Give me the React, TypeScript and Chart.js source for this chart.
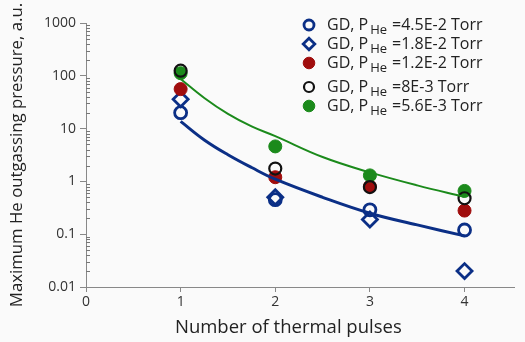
import React, { useEffect, useRef } from "react";
import { Chart, registerables } from "chart.js";

Chart.register(...registerables);

// ---- data ----
const pulses = [1, 2, 3, 4];
const seriesLabels = ["=4.5E-2 Torr", "=1.8E-2 Torr", "=1.2E-2 Torr", "=8E-3 Torr", "=5.6E-3 Torr"];
const p45e2 = [20, 0.45, 0.29, 0.12];
const p18e2 = [36, 0.5, 0.19, 0.02];
const p12e2 = [56, 1.2, 0.8, 0.28];
const p8e3 = [125, 1.75, 0.78, 0.48];
const p56e3 = [112, 4.6, 1.3, 0.66];
const fitX = [1, 1.25, 1.5, 1.75, 2, 2.5, 3, 3.5, 4];
const blueFit = [13.7, 6.1, 3.2, 1.83, 1.1, 0.5, 0.25, 0.15, 0.093];
const greenFit = [87, 38, 19, 11, 7.2, 2.9, 1.48, 0.84, 0.51];
const xTicks = [0, 1, 2, 3, 4];
const yTicks = [0.01, 0.1, 1, 10, 100, 1000];

const BLUE = "#0b2f86";
const RED = "#a00d0d";
const GREEN = "#1b8a1b";
const BLACK = "#111111";
const FONT = "'Open Sans', 'DejaVu Sans', sans-serif";

const toXY = (xs: number[], ys: number[]) => xs.map((x, i) => ({ x, y: ys[i] }));

type Marker = { style: string; fill: string; stroke: string; r: number; bw: number };
const markers: Marker[] = [
  { style: "circle", fill: "rgba(0,0,0,0)", stroke: BLUE, r: 6, bw: 2.8 },
  { style: "rectRot", fill: "rgba(0,0,0,0)", stroke: BLUE, r: 7.5, bw: 2.8 },
  { style: "circle", fill: RED, stroke: RED, r: 6.5, bw: 1 },
  { style: "circle", fill: "rgba(0,0,0,0)", stroke: BLACK, r: 6, bw: 2.2 },
  { style: "circle", fill: GREEN, stroke: GREEN, r: 6.5, bw: 1 },
];

const bgPlugin = {
  id: "bg",
  beforeDraw(chart: any) {
    const ctx = chart.ctx;
    ctx.save();
    ctx.fillStyle = "#fafafa";
    ctx.fillRect(0, 0, chart.width, chart.height);
    ctx.restore();
  },
};

const minorTicksPlugin = {
  id: "minorTicks",
  afterDraw(chart: any) {
    const ys = chart.scales.y;
    const ctx = chart.ctx;
    const x0 = ys.right;
    ctx.save();
    ctx.strokeStyle = "#777";
    ctx.lineWidth = 1;
    for (let k = -2; k < 3; k++) {
      for (let m = 2; m <= 9; m++) {
        const v = m * Math.pow(10, k);
        const py = Math.round(ys.getPixelForValue(v)) + 0.5;
        ctx.beginPath();
        ctx.moveTo(x0, py);
        ctx.lineTo(x0 + 4, py);
        ctx.stroke();
      }
    }
    ctx.restore();
  },
};

function drawMarker(ctx: CanvasRenderingContext2D, m: Marker, x: number, y: number) {
  ctx.beginPath();
  if (m.style === "rectRot") {
    const r = 5.8;
    ctx.moveTo(x, y - r);
    ctx.lineTo(x + r, y);
    ctx.lineTo(x, y + r);
    ctx.lineTo(x - r, y);
    ctx.closePath();
  } else {
    const r = m.fill !== "rgba(0,0,0,0)" ? 5.8 : 5;
    ctx.arc(x, y, r, 0, Math.PI * 2);
  }
  ctx.fill();
  ctx.stroke();
}

const legendPlugin = {
  id: "customLegend",
  afterDraw(chart: any) {
    const ctx = chart.ctx;
    const rowsY = [25, 44, 63, 87, 106];
    const mx = 309;
    const tx = 327;
    ctx.save();
    seriesLabels.forEach((lab, i) => {
      const m = markers[i];
      const y = rowsY[i];
      ctx.fillStyle = m.fill;
      ctx.strokeStyle = m.stroke;
      ctx.lineWidth = m.bw;
      drawMarker(ctx, m, mx, y);
      ctx.fillStyle = "#222";
      ctx.textBaseline = "middle";
      ctx.textAlign = "left";
      ctx.font = `16px ${FONT}`;
      const t1 = "GD, P";
      ctx.fillText(t1, tx, y);
      let x = tx + ctx.measureText(t1).width + 2;
      ctx.font = `13px ${FONT}`;
      ctx.fillText("He", x, y + 5);
      x += ctx.measureText("He").width + 5;
      ctx.font = `16px ${FONT}`;
      ctx.fillText(lab, x, y);
    });
    ctx.restore();
  },
};

export default function App() {
  const ref = useRef<HTMLCanvasElement>(null);
  useEffect(() => {
    document.body.style.margin = "0";
    const pointSeries = [p45e2, p18e2, p12e2, p8e3, p56e3];
    const pointDatasets = pointSeries.map((vals, i) => ({
      label: seriesLabels[i],
      data: toXY(pulses, vals),
      showLine: false,
      pointStyle: markers[i].style,
      pointRadius: markers[i].r,
      pointHoverRadius: markers[i].r,
      pointBackgroundColor: markers[i].fill,
      pointBorderColor: markers[i].stroke,
      pointBorderWidth: markers[i].bw,
      order: [6, 5, 4, 2, 3][i],
    }));
    const chart = new Chart(ref.current as HTMLCanvasElement, {
      type: "scatter",
      data: {
        datasets: [
          {
            label: "fit1",
            data: toXY(fitX, blueFit),
            showLine: true,
            borderColor: BLUE,
            borderWidth: 3,
            pointRadius: 0,
            tension: 0.4,
            order: 0,
          } as any,
          {
            label: "fit2",
            data: toXY(fitX, greenFit),
            showLine: true,
            borderColor: GREEN,
            borderWidth: 2,
            pointRadius: 0,
            tension: 0.4,
            order: 1,
          } as any,
          ...pointDatasets,
        ],
      },
      options: {
        animation: false,
        responsive: false,
        maintainAspectRatio: false,
        layout: { padding: { top: 23, right: 5, left: 0, bottom: 0 } },
        plugins: { legend: { display: false }, tooltip: { enabled: false } },
        scales: {
          x: {
            type: "linear",
            min: 0,
            max: 4.53,
            afterBuildTicks: (s: any) => {
              s.ticks = xTicks.map((v) => ({ value: v }));
            },
            afterFit: (s: any) => {
              s.height = 55;
            },
            ticks: {
              color: "#333",
              font: { family: FONT, size: 14 },
              padding: 2,
              callback: (v: any) => String(v),
            },
            grid: { drawOnChartArea: false, drawTicks: true, tickLength: 5, color: "#888" },
            border: { display: true, color: "#888", width: 1 },
            title: {
              display: true,
              text: "Number of thermal pulses     ",
              color: "#222",
              font: { family: FONT, size: 18.5 },
              padding: { top: 2, bottom: 3 },
            },
          },
          y: {
            type: "logarithmic",
            min: 0.01,
            max: 1000,
            afterBuildTicks: (s: any) => {
              s.ticks = yTicks.map((v) => ({ value: v, major: true }));
            },
            afterFit: (s: any) => {
              s.width = 86;
            },
            ticks: {
              color: "#333",
              font: { family: FONT, size: 14 },
              padding: 4,
              callback: (v: any) => String(v),
            },
            grid: { drawOnChartArea: false, drawTicks: true, tickLength: 6, color: "#888" },
            border: { display: true, color: "#888", width: 1 },
            title: {
              display: true,
              text: "Maximum He outgassing pressure, a.u.",
              color: "#222",
              font: { family: FONT, size: 16.8 },
              padding: { top: 7, bottom: 0 },
            },
          },
        },
      },
      plugins: [bgPlugin, minorTicksPlugin, legendPlugin],
    });
    return () => chart.destroy();
  }, []);
  return (
    <div style={{ width: 525, height: 342, position: "relative" }}>
      <canvas ref={ref} width={525} height={342} style={{ width: 525, height: 342, display: "block" }} />
    </div>
  );
}
